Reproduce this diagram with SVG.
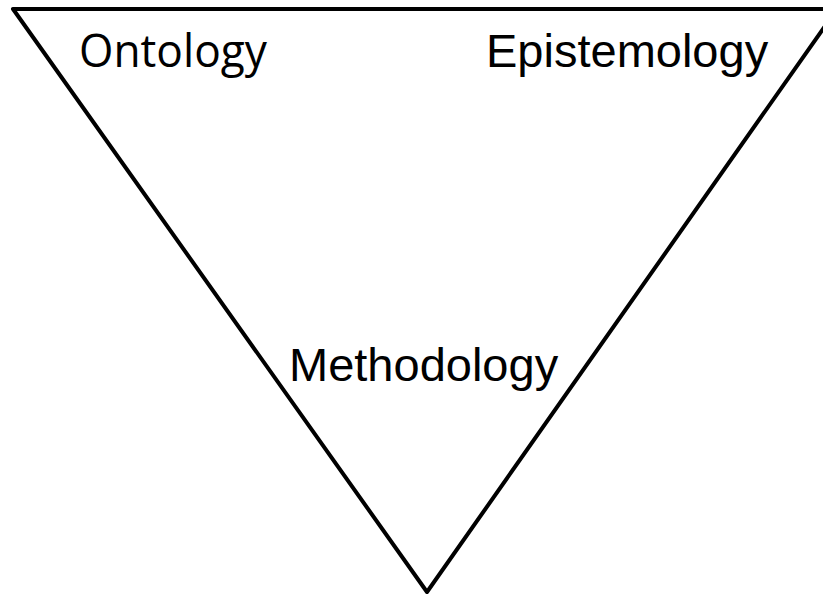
<svg xmlns="http://www.w3.org/2000/svg" width="823" height="596" viewBox="0 0 823 596">
<style>
.edge{fill:none;stroke:#000;stroke-width:4;stroke-linejoin:round;stroke-linecap:round}
.lbl{font-family:"Liberation Sans",Arial,sans-serif;font-size:47px;fill:#000}
.seg{font-family:"Open Sans","Noto Sans",sans-serif;font-size:46px;fill:#000}
</style>
<rect width="823" height="596" fill="#fff"/>
<g id="connectors">
<polygon class="edge" points="13,9 837,9 427,592"/>
</g>
<g id="ontology"><text class="seg" x="79" y="66.5" textLength="188" lengthAdjust="spacingAndGlyphs">Ontology</text></g>
<g id="epistemology"><text class="lbl" x="486" y="66.5">Epistemology</text></g>
<g id="methodology"><text class="lbl" x="289" y="380.5">Methodology</text></g>
</svg>
